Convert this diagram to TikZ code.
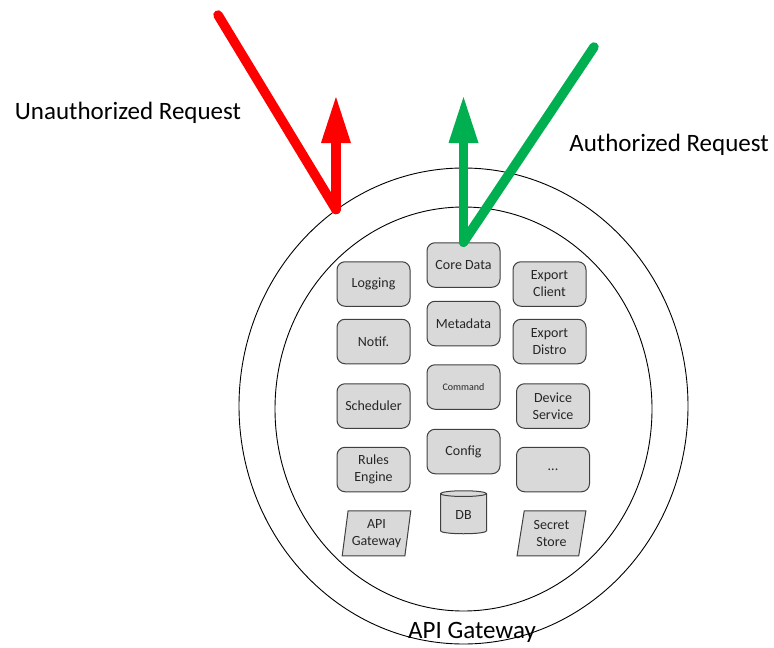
\documentclass[tikz,border=0pt]{standalone}
\usepackage{fontspec}
\setmainfont{Carlito}
\usepackage{tikz}
\usetikzlibrary{arrows.meta,calc,positioning,shapes}

\definecolor{boxfill}{HTML}{D9D9D9}
\definecolor{boxline}{HTML}{404040}
\definecolor{okgreen}{HTML}{00B050}

\begin{document}
\begin{tikzpicture}[x=1pt,y=-1pt]
	\tikzstyle{service} = [draw=boxline, fill=boxfill, line width=1pt, rounded corners=8pt, minimum width=73pt, minimum height=44.5pt, align=center, font=\fontsize{14}{17}\selectfont, text=black!85]
	\tikzstyle{store} = [service, rounded corners=0pt, trapezium, trapezium left angle=80, trapezium right angle=100, trapezium stretches=true, inner sep=1pt, minimum width=69pt, minimum height=45pt]
	\tikzstyle{dbstore} = [draw=boxline, fill=boxfill, line width=1pt, cylinder, shape border rotate=90, aspect=0.25, minimum width=46pt, minimum height=43pt, font=\fontsize{14}{17}\selectfont, text=black!85]
	\tikzstyle{ring} = [draw, ellipse, line width=0.9pt, inner sep=0pt]
	\tikzstyle{caption} = [font=\fontsize{25}{30}\selectfont]
	\tikzstyle{deny} = [draw=red, fill=red, line width=9.5pt, line cap=round]
	\tikzstyle{allow} = [draw=okgreen, fill=okgreen, line width=9.5pt, line cap=round]
	
	\useasboundingbox (0,0) rectangle (774,648);
	
	\node [ring, minimum width=449pt, minimum height=476pt] (outerring) at (463.5,406) {};
	\node [ring, minimum width=377pt, minimum height=404pt] (innerring) at (463.5,409) {};
	
	\node [service] (coredata) at (463.5,265) {Core Data};
	\node [service, below = 13pt of coredata] (metadata) {Metadata};
	\node [service, below = 18pt of metadata, font=\fontsize{10}{12}\selectfont] (command) {Command};
	\node [service, below = 19pt of command] (config) {Config};
	\node [dbstore, below = 16pt of config] (db) {DB};
	
	\node [service] (logging) at (373.5,284) {Logging};
	\node [service, below = 12pt of logging] (notif) {Notif.};
	\node [service, below = 19pt of notif] (scheduler) {Scheduler};
	\node [service, below = 18pt of scheduler] (rules) {Rules\\Engine};
	\node [store, below = 18pt of rules, xshift=3pt] (apigw) {API\\Gateway};
	
	\node [service] (exportclient) at (549.5,284) {Export\\Client};
	\node [service, below = 12pt of exportclient] (exportdistro) {Export\\Distro};
	\node [service, below = 19pt of exportdistro, xshift=3.5pt] (device) {Device\\Service};
	\node [service, below = 18pt of device] (more) {...};
	\node [store, below = 18pt of more, xshift=-1.5pt] (secret) {Secret\\Store};
	
	\node [caption] (unauth) at (128,113) {Unauthorized Request};
	\node [caption] (auth) at (669,145) {Authorized Request};
	\node [caption] (gwlabel) at (472,632) {API Gateway};
	
	\coordinate (redfrom) at (218,15);
	\coordinate (redhit) at (outerring.123.5);
	\coordinate (redtip) at (redhit |- 0,97);
	\coordinate (greenfrom) at (594,47);
	\coordinate (greentip) at (coredata.north |- 0,97);
	
	\draw [deny] (redfrom) -- (redhit);
	\draw [deny, -{Triangle[width=30pt,length=46pt,line width=0pt]}] (redhit) -- (redtip);
	\draw [allow] (greenfrom) -- (coredata.north);
	\draw [allow, -{Triangle[width=30pt,length=46pt,line width=0pt]}] (coredata.north) -- (greentip);
	
\end{tikzpicture}
\end{document}
